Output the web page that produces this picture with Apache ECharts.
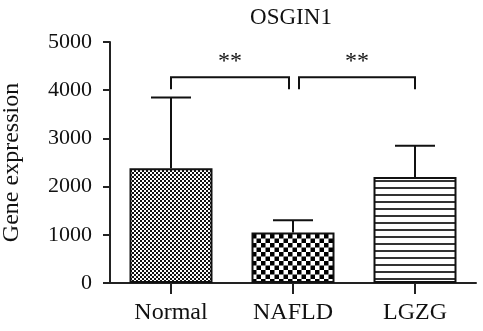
<!DOCTYPE html>
<html>
<head>
<meta charset="utf-8">
<script src="https://cdn.jsdelivr.net/npm/echarts@6/dist/echarts.min.js"></script>
<style>
  html, body { margin: 0; padding: 0; background: #fff; }
  #chart { width: 483px; height: 331px; }
</style>
</head>
<body>
<div id="chart"></div>
<script>
// OSGIN1 expression by group: mean with upper SD whisker
const categories = ['Normal', 'NAFLD', 'LGZG'];
const means = [2380, 1050, 2200];
const errorTops = [3850, 1300, 2850];
const yTicks = [0, 1000, 2000, 3000, 4000, 5000];

// significance brackets: [fromIndex, toIndex, bracketTop, legBottom, label]
const brackets = [
  [0, 1, 4270, 4020, '**'],
  [1, 2, 4270, 4020, '**']
];

const FONT = '"Liberation Serif", "Times New Roman", serif';

// fill patterns for each bar
function makePattern(kind) {
  const c = document.createElement('canvas');
  const ctx = c.getContext('2d');
  if (kind === 'fine') {
    c.width = 4; c.height = 4;
    ctx.fillStyle = '#fff'; ctx.fillRect(0, 0, 4, 4);
    ctx.fillStyle = '#111';
    ctx.fillRect(0, 0, 2, 2); ctx.fillRect(2, 2, 2, 2);
  } else if (kind === 'coarse') {
    c.width = 9; c.height = 9;
    ctx.fillStyle = '#fff'; ctx.fillRect(0, 0, 9, 9);
    ctx.fillStyle = '#000';
    ctx.fillRect(0, 0, 4.5, 4.5); ctx.fillRect(4.5, 4.5, 4.5, 4.5);
  } else {
    c.width = 8; c.height = 7;
    ctx.fillStyle = '#fff'; ctx.fillRect(0, 0, 8, 7);
    ctx.fillStyle = '#333';
    ctx.fillRect(0, 5, 8, 2);
  }
  return { image: c, repeat: 'repeat' };
}
const patterns = [makePattern('fine'), makePattern('coarse'), makePattern('lines')];

const chart = echarts.init(document.getElementById('chart'), null, { renderer: 'canvas' });

chart.setOption({
  animation: false,
  backgroundColor: '#fff',
  title: {
    text: 'OSGIN1',
    left: 286, top: 1, textAlign: 'center',
    textStyle: { fontFamily: FONT, fontSize: 23, fontWeight: 'normal', color: '#111' }
  },
  grid: { left: 110, right: 7, top: 42, bottom: 48, containLabel: false, outerBoundsMode: 'none' },
  xAxis: {
    type: 'category',
    data: categories,
    axisLine: { lineStyle: { color: '#222', width: 2 } },
    axisTick: { show: true, length: 11, alignWithLabel: true, lineStyle: { color: '#222', width: 2 } },
    axisLabel: { fontFamily: FONT, fontSize: 24, color: '#111', margin: 18 }
  },
  yAxis: {
    type: 'value',
    min: yTicks[0], max: yTicks[yTicks.length - 1], interval: 1000,
    name: 'Gene expression',
    nameLocation: 'middle',
    nameGap: 86,
    nameTextStyle: { fontFamily: FONT, fontSize: 24, color: '#111' },
    axisLine: { show: true, lineStyle: { color: '#222', width: 2 } },
    axisTick: { show: true, length: 7, lineStyle: { color: '#222', width: 2 } },
    axisLabel: {
      fontFamily: FONT, fontSize: 22, color: '#111', margin: 18,
      formatter: v => String(v)
    },
    splitLine: { show: false }
  },
  series: [
    {
      type: 'bar',
      barWidth: 83,
      data: means.map((v, i) => ({
        value: v,
        itemStyle: { color: patterns[i], borderColor: '#111', borderWidth: 2 }
      })),
      z: 2
    },
    {
      // whiskers from bar top up to mean + SD
      type: 'custom',
      z: 3,
      data: means.map((m, i) => [i, m, errorTops[i]]),
      renderItem: function (params, api) {
        const lo = api.coord([api.value(0), api.value(1)]);
        const hi = api.coord([api.value(0), api.value(2)]);
        const half = 20;
        const st = { stroke: '#111', lineWidth: 2 };
        return {
          type: 'group',
          children: [
            { type: 'line', shape: { x1: lo[0], y1: lo[1], x2: hi[0], y2: hi[1] }, style: st },
            { type: 'line', shape: { x1: hi[0] - half, y1: hi[1], x2: hi[0] + half, y2: hi[1] }, style: st }
          ]
        };
      }
    },
    {
      // significance brackets with labels
      type: 'custom',
      z: 3,
      data: brackets.map(b => [b[0], b[1], b[2], b[3]]),
      renderItem: function (params, api) {
        const idx = params.dataIndex;
        const b = brackets[idx];
        const a = api.coord([b[0], b[2]]);
        const c = api.coord([b[1], b[2]]);
        const bot = api.coord([b[0], b[3]])[1];
        // keep the two brackets from touching at the shared middle bar
        const x1 = a[0] + (idx === 1 ? 6 : 0);
        const x2 = c[0] - (idx === 0 ? 4 : 0);
        const y = a[1];
        const st = { stroke: '#111', lineWidth: 2, fill: null };
        return {
          type: 'group',
          children: [
            { type: 'polyline', shape: { points: [[x1, bot], [x1, y], [x2, y], [x2, bot]] }, style: st },
            {
              type: 'text',
              style: {
                text: b[4], x: (x1 + x2) / 2, y: y - 3,
                align: 'center', verticalAlign: 'bottom',
                font: '24px ' + FONT, fill: '#111'
              }
            }
          ]
        };
      }
    }
  ]
});
</script>
</body>
</html>
